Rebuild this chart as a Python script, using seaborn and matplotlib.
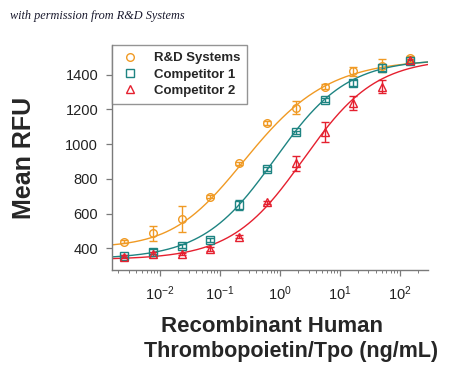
import numpy as np
import pandas as pd
import matplotlib
matplotlib.use('Agg')
import matplotlib.pyplot as plt
import seaborn as sns
from matplotlib.lines import Line2D
from matplotlib.ticker import LogLocator, LogFormatterSciNotation, NullFormatter

sns.set_style('white')
plt.rcParams['font.family'] = ['Liberation Sans', 'DejaVu Sans']
plt.rcParams['mathtext.fontset'] = 'custom'
plt.rcParams['mathtext.rm'] = 'Liberation Sans'

# ng/mL
conc = [0.0025, 0.0076, 0.023, 0.069, 0.21, 0.62, 1.85, 5.6, 16.7, 50, 150]

names = ['R&D Systems', 'Competitor 1', 'Competitor 2']
colors = ['#F09A24', '#1E8482', '#E5202F']
markers = ['o', 's', '^']

rnd_mean = [438, 487, 569, 698, 890, 1121, 1211, 1332, 1419, 1452, 1496]
rnd_err = [8, 42, 75, 10, 8, 12, 37, 14, 27, 37, 12]
comp1_mean = [356, 381, 413, 448, 650, 858, 1069, 1256, 1352, 1439, 1477]
comp1_err = [8, 15, 10, 12, 31, 12, 8, 12, 15, 20, 10]
comp2_mean = [352, 367, 367, 396, 467, 665, 890, 1069, 1237, 1332, 1483]
comp2_err = [8, 14, 8, 10, 10, 10, 44, 58, 38, 36, 10]

# fitted curve parameters (bottom, top, ec50, hill, asym)
fit_bottom = [405, 338, 335]
fit_top = [1490, 1490, 1495]
fit_ec50 = [0.092, 0.82, 2.48]
fit_hill = [0.58, 0.72, 0.72]
fit_asym = [1.75, 1.0, 1.0]

means = [rnd_mean, comp1_mean, comp2_mean]
errs = [rnd_err, comp1_err, comp2_err]

xs = np.logspace(np.log10(0.0016), np.log10(295), 300)
curves = []
for i, n in enumerate(names):
    y = fit_bottom[i] + (fit_top[i] - fit_bottom[i]) / (1 + (fit_ec50[i] / xs) ** fit_hill[i]) ** fit_asym[i]
    curves.append(pd.DataFrame({'conc': xs, 'rfu': y, 'series': n}))
curves = pd.concat(curves)

fig = plt.figure(figsize=(4.5, 3.74), dpi=100)
ax = fig.add_axes([0.249, 0.278, 0.702, 0.602])

sns.lineplot(data=curves, x='conc', y='rfu', hue='series', palette=colors,
             linewidth=1.0, legend=False, ax=ax, zorder=2)
for i in range(3):
    ax.errorbar(conc, means[i], yerr=errs[i], fmt=markers[i], mfc='none', mec=colors[i],
                ecolor=colors[i], mew=1.0, ms=5.5, capsize=3, elinewidth=1.0, zorder=3)

ax.set_xscale('log')
ax.set_xlim(0.00158, 295)
ax.set_ylim(275, 1572)
ax.set_yticks([400, 600, 800, 1000, 1200, 1400])
ax.xaxis.set_major_locator(LogLocator(base=10, numticks=10))
ax.xaxis.set_major_formatter(LogFormatterSciNotation())
ax.xaxis.set_minor_locator(LogLocator(base=10, subs=np.arange(2, 10), numticks=20))
ax.xaxis.set_minor_formatter(NullFormatter())

for s in ['top', 'right']:
    ax.spines[s].set_visible(False)
for s in ['left', 'bottom']:
    ax.spines[s].set_color('#7a7a7a')
    ax.spines[s].set_linewidth(1.0)
ax.tick_params(axis='both', which='major', direction='out', length=4, width=0.9,
               color='#7a7a7a', labelsize=10.5, labelcolor='#222222', pad=6, bottom=True, left=True)
ax.tick_params(axis='x', which='minor', direction='out', length=2.5, width=0.7,
               color='#7a7a7a', bottom=True)

ax.set_xlabel('')
ax.set_ylabel('Mean RFU', fontsize=18, weight='bold')
ax.yaxis.set_label_coords(-0.24, 0.5)

fig.text(0.605, 0.126, 'Recombinant Human', ha='center', va='center', fontsize=16, weight='bold')
fig.text(0.647, 0.061, 'Thrombopoietin/Tpo (ng/mL)', ha='center', va='center', fontsize=15.5, weight='bold')

fig.text(0.022, 0.958, 'with permission from R&D Systems', ha='left', va='center',
         fontsize=8.8, style='italic', family=['Liberation Serif', 'DejaVu Serif'], color='#1a1a2e')

handles = [Line2D([], [], ls='none', marker=markers[i], mfc='none', mec=colors[i], mew=1.0, ms=5.5)
           for i in range(3)]
leg = ax.legend(handles, names, loc='upper left', bbox_to_anchor=(0, 1), borderaxespad=0,
                frameon=True, fancybox=False, prop={'family': ['Liberation Sans', 'DejaVu Sans'],
                                                    'weight': 'bold', 'size': 9.5},
                handletextpad=1.0, labelspacing=0.3, borderpad=0.55, handlelength=1.6)
leg.get_frame().set_edgecolor('#7a7a7a')
leg.get_frame().set_linewidth(1.0)

fig.savefig('out.png', dpi=100)
